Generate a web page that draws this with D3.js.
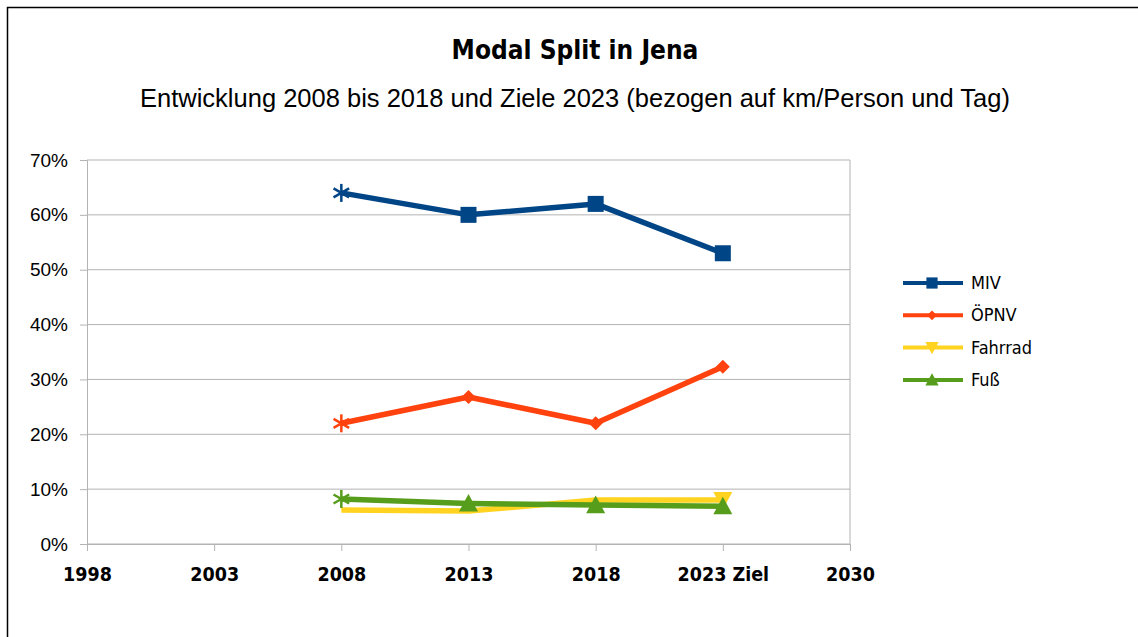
<!DOCTYPE html>
<html><head><meta charset="utf-8">
<script src="https://cdn.jsdelivr.net/npm/d3@7"></script>
<style>body{margin:0;background:#fff}svg{display:block}</style>
</head><body><svg id="c" width="1138" height="637"></svg>
<script>
const categories = ["1998","2003","2008","2013","2018","2023 Ziel","2030"];
const yTicks = [0,0.1,0.2,0.3,0.4,0.5,0.6,0.7];
const dataYears = ["2008","2013","2018","2023 Ziel"];
const miv = [0.64,0.60,0.62,0.53];
const oepnv = [0.22,0.268,0.22,0.323];
const fahrrad = [0.062,0.06,0.08,0.08];
const fuss = [0.082,0.074,0.071,0.069];
const seriesNames = ["MIV","ÖPNV","Fahrrad","Fuß"];
const seriesColors = ["#004586","#ff420e","#ffd320","#579d1c"];
const seriesSymbols = ["square","diamond","triangleDown","triangle"];
const seriesValues = [miv,oepnv,fahrrad,fuss];
// marker shown per point: "star", "sym" or "none"
const pointMarks = [
  ["star","sym","sym","sym"],
  ["star","sym","sym","sym"],
  ["none","none","none","sym"],
  ["star","sym","sym","sym"]
];
const drawOrder = [2,3,1,0];

const svg = d3.select("#c");
svg.append("path").attr("d","M7.5,637V7.5H1138").attr("fill","none").attr("stroke","#000").attr("stroke-width",1.5);

const L=87,R=850,T=160,B=544;
const x = d3.scalePoint().domain(categories).range([L,R]).padding(0);
const y = d3.scaleLinear().domain([0,0.7]).range([B,T]);
const condensed = "'Liberation Sans Narrow','DejaVu Sans Condensed',sans-serif";

svg.append("text").attr("x",575).attr("y",59).attr("text-anchor","middle")
 .attr("font-family",condensed).attr("font-weight","bold").attr("font-size",26).text("Modal Split in Jena");
svg.append("text").attr("x",575).attr("y",107).attr("text-anchor","middle")
 .attr("font-family","'Liberation Sans',Arial,sans-serif").attr("font-size",25.5).text("Entwicklung 2008 bis 2018 und Ziele 2023 (bezogen auf km/Person und Tag)");

svg.append("g").selectAll("line").data(yTicks).join("line")
 .attr("x1",L).attr("x2",R).attr("y1",d=>y(d)).attr("y2",d=>y(d)).attr("stroke","#b3b3b3").attr("stroke-width",1);
svg.append("line").attr("x1",R).attr("x2",R).attr("y1",T).attr("y2",B).attr("stroke","#b3b3b3");

const ya = svg.append("g").attr("transform",`translate(${L},0)`)
 .call(d3.axisLeft(y).tickValues(yTicks).tickFormat(d3.format(".0%")).tickSize(7).tickPadding(12));
ya.select(".domain").attr("stroke","#b3b3b3");
ya.selectAll(".tick line").attr("stroke","#b3b3b3");
ya.selectAll("text").attr("font-family","'Liberation Sans',Arial,sans-serif").attr("font-size",19).attr("fill","#000");

const xa = svg.append("g").attr("transform",`translate(0,${B})`)
 .call(d3.axisBottom(x).tickSize(7).tickPadding(16));
xa.select(".domain").attr("stroke","#b3b3b3");
xa.selectAll(".tick line").attr("stroke","#b3b3b3");
xa.selectAll("text").attr("font-family",condensed).attr("font-weight","bold").attr("font-size",19.5).attr("fill","#000");

function marker(g,s,c,cx,cy,sc){
  sc=sc||1;
  if(s==="square"){
    const h=8*sc; g.append("rect").attr("x",cx-h).attr("y",cy-h).attr("width",2*h).attr("height",2*h).attr("fill",c);
  } else if(s==="diamond"){
    const h=7*sc; g.append("path").attr("d",`M${cx},${cy-h}L${cx+h},${cy}L${cx},${cy+h}L${cx-h},${cy}Z`).attr("fill",c);
  } else if(s==="triangle"){
    const h=9.5*sc; g.append("path").attr("d",`M${cx},${cy-h}L${cx+h},${cy+h*0.85}L${cx-h},${cy+h*0.85}Z`).attr("fill",c);
  } else {
    const h=9.5*sc; g.append("path").attr("d",`M${cx},${cy+h}L${cx+h},${cy-h*0.85}L${cx-h},${cy-h*0.85}Z`).attr("fill",c);
  }
}
function star(g,c,cx,cy){
  const r=9;
  [90,30,-30].forEach(deg=>{
    const t=deg*Math.PI/180;
    g.append("line").attr("x1",cx-r*Math.cos(t)).attr("y1",cy-r*Math.sin(t)).attr("x2",cx+r*Math.cos(t)).attr("y2",cy+r*Math.sin(t))
     .attr("stroke",c).attr("stroke-width",2.5);
  });
}
const line = d3.line().x((d,i)=>x(dataYears[i])).y(d=>y(d));
const plot = svg.append("g");
drawOrder.forEach(si=>{
  const vals=seriesValues[si], c=seriesColors[si];
  const g=plot.append("g");
  g.append("path").datum(vals).attr("d",line).attr("fill","none").attr("stroke",c).attr("stroke-width",5.5).attr("stroke-linejoin","round");
  vals.forEach((v,i)=>{
    const m=pointMarks[si][i];
    if(m==="star") star(g,c,x(dataYears[i]),y(v));
    else if(m==="sym") marker(g,seriesSymbols[si],c,x(dataYears[i]),y(v));
  });
});

const lg = svg.append("g");
seriesNames.forEach((n,i)=>{
  const yy=283+i*32.3;
  lg.append("line").attr("x1",903).attr("x2",963).attr("y1",yy).attr("y2",yy).attr("stroke",seriesColors[i]).attr("stroke-width",4);
  marker(lg,seriesSymbols[i],seriesColors[i],932,yy,0.7);
  lg.append("text").attr("x",971).attr("y",yy+6).attr("font-family",condensed).attr("font-size",18).text(n);
});
</script></body></html>
